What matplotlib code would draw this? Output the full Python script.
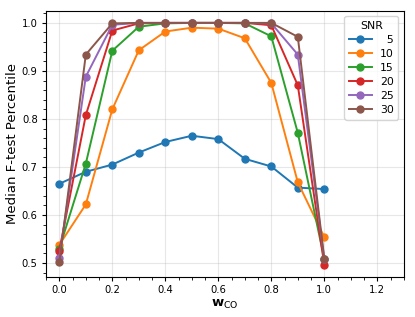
import matplotlib
matplotlib.use("Agg")
import matplotlib.pyplot as plt
from matplotlib.ticker import AutoMinorLocator

w_co = [0.0, 0.1, 0.2, 0.3, 0.4, 0.5, 0.6, 0.7, 0.8, 0.9, 1.0]
snr_levels = [5, 10, 15, 20, 25, 30]
snr5 = [0.665, 0.690, 0.705, 0.730, 0.752, 0.765, 0.758, 0.717, 0.701, 0.657, 0.654]
snr10 = [0.538, 0.622, 0.820, 0.943, 0.982, 0.990, 0.988, 0.968, 0.875, 0.668, 0.554]
snr15 = [0.530, 0.707, 0.942, 0.992, 0.999, 1.000, 1.000, 0.999, 0.972, 0.771, 0.508]
snr20 = [0.526, 0.808, 0.984, 0.999, 1.000, 1.000, 1.000, 1.000, 0.995, 0.870, 0.496]
snr25 = [0.511, 0.888, 0.996, 1.000, 1.000, 1.000, 1.000, 1.000, 0.999, 0.934, 0.508]
snr30 = [0.502, 0.934, 0.999, 1.000, 1.000, 1.000, 1.000, 1.000, 1.000, 0.971, 0.509]
series = [snr5, snr10, snr15, snr20, snr25, snr30]

fig = plt.figure(figsize=(4.15, 3.17), dpi=100)
ax = fig.add_axes([0.111, 0.126, 0.862, 0.840])
for snr, vals in zip(snr_levels, series):
    ax.plot(w_co, vals, marker='o', markersize=5, linewidth=1.4,
            label=f"{snr:\u2007>2}")

ax.set_xlim(-0.05, 1.3)
ax.xaxis.set_minor_locator(AutoMinorLocator())
ax.yaxis.set_minor_locator(AutoMinorLocator())
ax.grid(True, alpha=0.3)
ax.tick_params(labelsize=7.2, length=3, pad=3)
ax.tick_params(which='minor', length=2)
ax.set_xlabel(r'$\mathbf{w}_{\mathrm{CO}}$', fontsize=9.5, labelpad=2)
ax.set_ylabel('Median F-test Percentile', fontsize=9.5, labelpad=2)
leg = ax.legend(title='SNR', loc='upper right', fontsize=7.8, title_fontsize=7.8,
                labelspacing=0.38, handlelength=2.1)
fig.savefig('out.png', dpi=100)
